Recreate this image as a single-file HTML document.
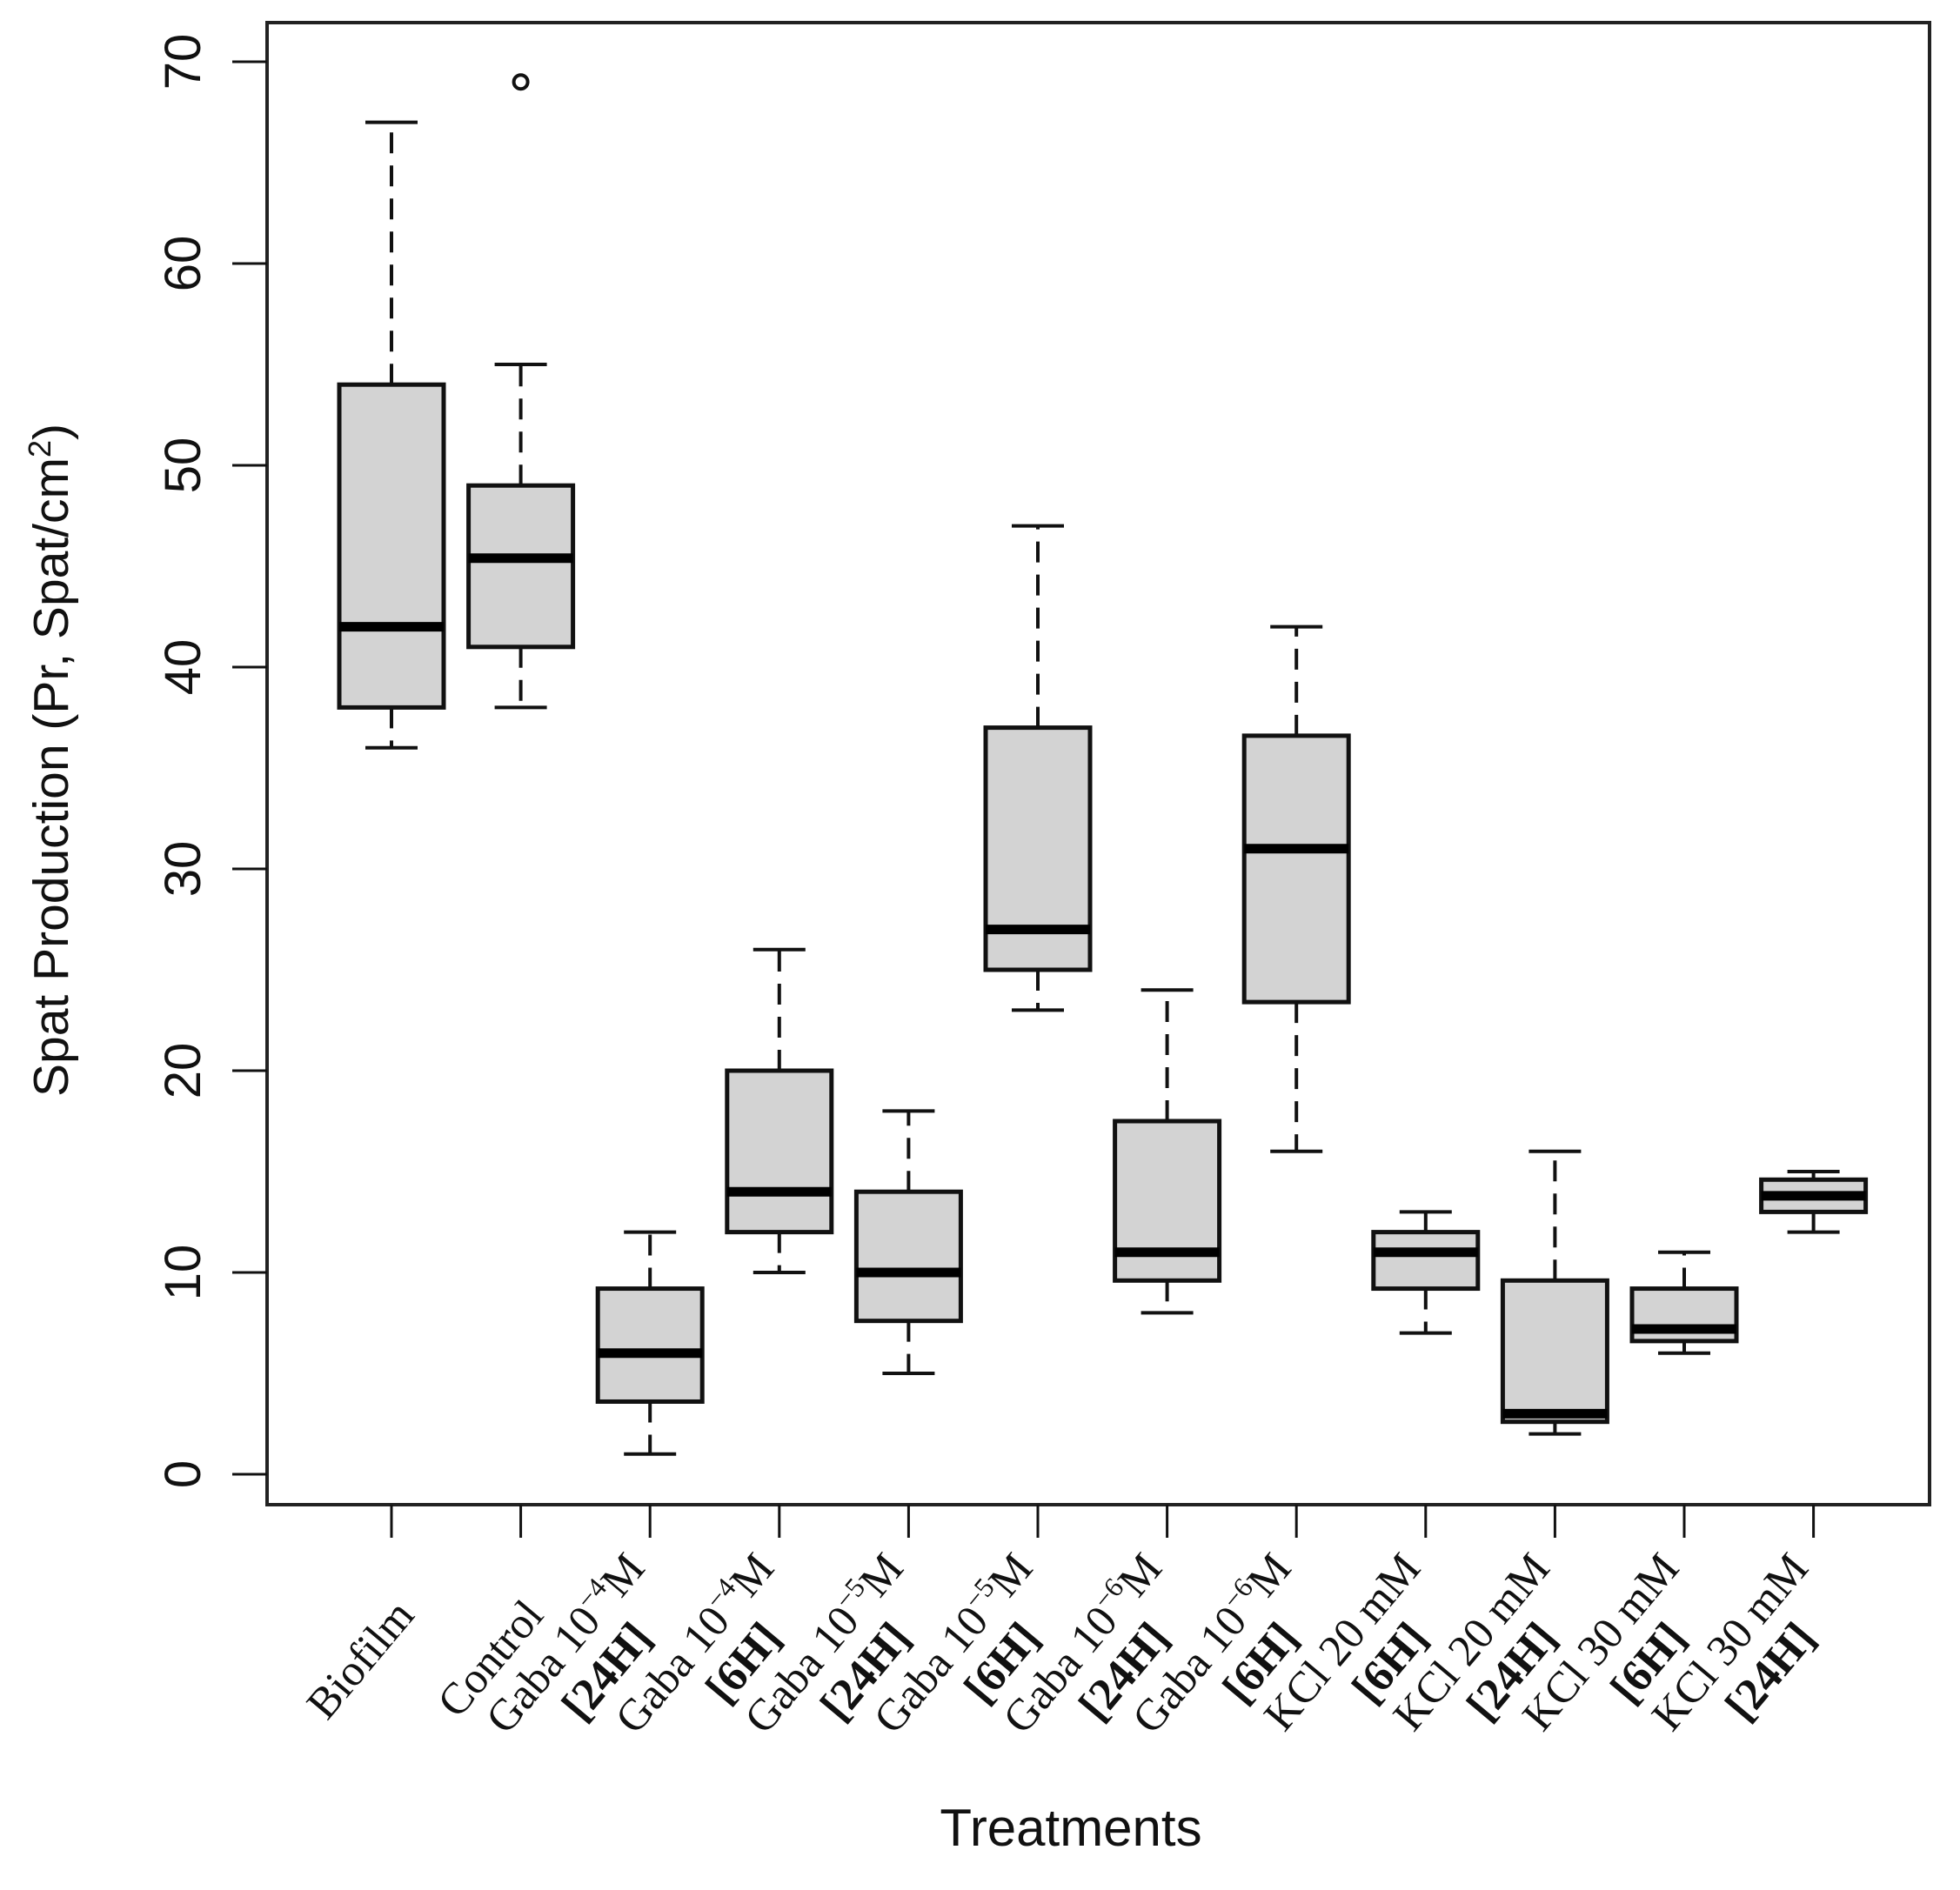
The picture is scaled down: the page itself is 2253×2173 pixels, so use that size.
<!DOCTYPE html>
<html><head><meta charset="utf-8"><style>
html,body{margin:0;padding:0;background:#fff;}
svg{display:block;}
</style></head><body>
<svg id="chart" width="2253" height="2173" viewBox="0 0 2253 2173" xmlns="http://www.w3.org/2000/svg">
<rect width="2253" height="2173" fill="#fff"/>
<g id="axes"></g>
<g id="boxes"></g>
<g id="labels"></g>
</svg>
<script>
const categories = ["Biofilm","Control","Gaba 10-4 M [24H]","Gaba 10-4 M [6H]","Gaba 10-5 M [24H]","Gaba 10-5 M [6H]","Gaba 10-6 M [24H]","Gaba 10-6 M [6H]","KCl 20 mM [6H]","KCl 20 mM [24H]","KCl 30 mM [6H]","KCl 30 mM [24H]"];
const labelMain = ["Biofilm","Control","Gaba 10","Gaba 10","Gaba 10","Gaba 10","Gaba 10","Gaba 10","KCl 20 mM","KCl 20 mM","KCl 30 mM","KCl 30 mM"];
const labelExp = ["","","\u22124","\u22124","\u22125","\u22125","\u22126","\u22126","","","",""];
const labelSub = ["","","[24H]","[6H]","[24H]","[6H]","[24H]","[6H]","[6H]","[24H]","[6H]","[24H]"];
const whiskerLow = [36,38,1,10,5,23,8,16,7,2,6,12];
const q1 = [38,41,3.6,12,7.6,25,9.6,23.4,9.2,2.6,6.6,13];
const median = [42,45.4,6,14,10,27,11,31,11,3,7.2,13.8];
const q3 = [54,49,9.2,20,14,37,17.5,36.6,12,9.6,9.2,14.6];
const whiskerHigh = [67,55,12,26,18,47,24,42,13,16,11,15];
const outlierCat = [1];
const outlierVal = [69];
const yTicks = [0,10,20,30,40,50,60,70];

const NS="http://www.w3.org/2000/svg";
const L=307,R=2218,T=26,B=1730;
const yS=v=>1695-v*(1695-71)/70;
const xS=i=>450+i*148.6;
function mk(tag,attrs,parent){const e=document.createElementNS(NS,tag);for(const k in attrs)e.setAttribute(k,attrs[k]);parent.appendChild(e);return e;}
const axes=document.getElementById('axes'),boxes=document.getElementById('boxes'),labels=document.getElementById('labels');

const frame=mk('rect',{x:L,y:T,width:R-L,height:B-T,fill:'none',stroke:'#222','stroke-width':4},axes);



yTicks.forEach(v=>{
  const t=mk('line',{x1:267,x2:L,y1:yS(v),y2:yS(v),stroke:'#111','stroke-width':3},axes);
  
  
  const tx=mk('text',{x:0,y:0,transform:`translate(230,${yS(v)}) rotate(-90)`,'text-anchor':'middle','font-family':'Liberation Sans, sans-serif','font-size':58,fill:'#111'},axes);
  tx.textContent=v;
  
  
});
const yt=mk('text',{x:0,y:0,transform:'translate(78,874) rotate(-90)','text-anchor':'middle','font-family':'Liberation Sans, sans-serif','font-size':57,fill:'#111'},axes);
yt.innerHTML='Spat Production (Pr, Spat/cm<tspan font-size="36" dy="-20">2</tspan><tspan dy="20">)</tspan>';


const xt=mk('text',{x:1231,y:2122,'text-anchor':'middle','font-family':'Liberation Sans, sans-serif','font-size':60,fill:'#111'},axes);
xt.textContent='Treatments';



categories.forEach((c,i)=>{
  const x=xS(i),hw=60,cw=30;
  const g=mk('g',{},boxes);
  
  
  mk('line',{x1:x,x2:x,y1:yS(q3[i]),y2:yS(whiskerHigh[i]),stroke:'#111','stroke-width':4,'stroke-dasharray':'24,14'},g);
  mk('line',{x1:x,x2:x,y1:yS(q1[i]),y2:yS(whiskerLow[i]),stroke:'#111','stroke-width':4,'stroke-dasharray':'24,14'},g);
  mk('line',{x1:x-cw,x2:x+cw,y1:yS(whiskerHigh[i]),y2:yS(whiskerHigh[i]),stroke:'#111','stroke-width':4},g);
  mk('line',{x1:x-cw,x2:x+cw,y1:yS(whiskerLow[i]),y2:yS(whiskerLow[i]),stroke:'#111','stroke-width':4},g);
  mk('rect',{x:x-hw,y:yS(q3[i]),width:2*hw,height:yS(q1[i])-yS(q3[i]),fill:'#d3d3d3',stroke:'#111','stroke-width':5},g);
  mk('line',{x1:x-hw,x2:x+hw,y1:yS(median[i]),y2:yS(median[i]),stroke:'#000','stroke-width':11},g);
  const tk=mk('line',{x1:x,x2:x,y1:B,y2:1768,stroke:'#111','stroke-width':3},axes);
  
  
  const lg=mk('g',{},labels);
  
  
  const single=!labelSub[i];
  const t1=mk('text',{x:0,y:0,transform:`translate(${x+(single?28:-4)},${single?1858:1804}) rotate(-50)`,'text-anchor':'end','font-family':'Liberation Serif, serif','font-size':51,fill:'#111'},lg);
  if(labelExp[i]){t1.innerHTML=`${labelMain[i]}<tspan font-size="32" dy="-20">${labelExp[i]}</tspan><tspan dy="20">M</tspan>`;}
  else t1.textContent=labelMain[i];
  if(!single){
    const t2=mk('text',{x:0,y:0,transform:`translate(${x+4},1884) rotate(-50)`,'text-anchor':'end','font-family':'Liberation Serif, serif','font-size':52,'font-weight':'bold',fill:'#111'},lg);
    t2.textContent=labelSub[i];
  }
});
outlierCat.forEach((c,k)=>{
  const o=mk('circle',{cx:xS(c),cy:yS(outlierVal[k]),r:8,fill:'none',stroke:'#111','stroke-width':4},boxes);
  
  
});
</script>
</body></html>
